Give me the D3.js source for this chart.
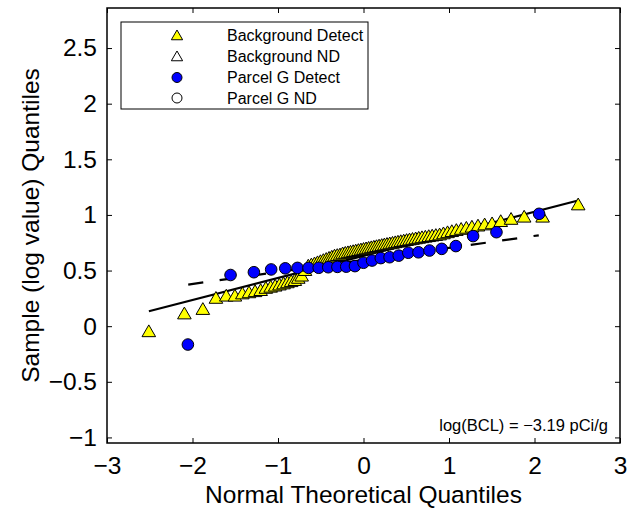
<html lang="en">
<head>
<style>
body { margin: 0; background: #fff; }
text { font-family: "Liberation Sans", Arial, sans-serif; }
</style>
</head>
<body>
</body>
<script type='text/javascript' src='https://d3js.org/d3.v7.min.js'></script>
<script>
var width = 630, height = 512;

// background detects: theoretical quantile, sample quantile
const bgX = [-2.511,-2.095,-1.879,-1.726,-1.605,-1.504,-1.417,-1.339,-1.268,-1.203,
  -1.142,-1.086,-1.033,-0.983,-0.935,-0.890,-0.846,-0.803,-0.763,-0.723,
  -0.684,-0.646,-0.610,-0.573,-0.538,-0.504,-0.470,-0.436,-0.403,-0.371,
  -0.339,-0.307,-0.275,-0.244,-0.213,-0.182,-0.152,-0.121,-0.091,-0.060,
  -0.030,0,0.030,0.060,0.091,0.121,0.152,0.182,0.213,0.244,
  0.275,0.307,0.339,0.371,0.403,0.436,0.470,0.504,0.538,0.573,
  0.610,0.646,0.684,0.723,0.763,0.803,0.846,0.890,0.935,0.983,
  1.033,1.086,1.142,1.203,1.268,1.339,1.417,1.504,1.605,1.726,
  1.879,2.095,2.511];
const bgY = [-0.05,0.11,0.15,0.25,0.27,0.27,0.29,0.30,0.31,0.32,
  0.34,0.35,0.36,0.37,0.38,0.39,0.40,0.41,0.43,0.45,
  0.50,0.54,0.55,0.56,0.57,0.58,0.59,0.60,0.61,0.62,
  0.63,0.635,0.64,0.65,0.655,0.66,0.665,0.67,0.675,0.68,
  0.685,0.69,0.695,0.70,0.705,0.71,0.715,0.72,0.725,0.73,
  0.735,0.74,0.745,0.75,0.755,0.76,0.765,0.77,0.775,0.78,
  0.785,0.79,0.795,0.80,0.805,0.81,0.815,0.82,0.83,0.84,
  0.85,0.86,0.87,0.88,0.89,0.90,0.91,0.92,0.94,0.96,
  0.98,0.98,1.09];

// parcel G detects
const pgX = [-2.054,-1.555,-1.282,-1.080,-0.915,-0.772,-0.643,-0.524,-0.412,-0.305,
  -0.202,-0.100,0,0.100,0.202,0.305,0.412,0.524,0.643,0.772,
  0.915,1.080,1.282,1.555,2.054];
const pgY = [-0.165,0.46,0.485,0.51,0.52,0.524,0.524,0.525,0.53,0.533,
  0.535,0.54,0.57,0.59,0.612,0.62,0.634,0.66,0.664,0.68,
  0.695,0.72,0.81,0.845,1.01];

// fit lines [x0, x1], [y0, y1]
const bgFitX = [-2.51, 2.51], bgFitY = [0.134, 1.13];
const pgFitX = [-2.05, 2.05], pgFitY = [0.374, 0.817];

const xTicks = [-3,-2,-1,0,1,2,3];
const yTicks = [-1,-0.5,0,0.5,1,1.5,2,2.5];
const legendLabels = ['Background Detect','Background ND','Parcel G Detect','Parcel G ND'];
const note = 'log(BCL) = \u22123.19 pCi/g';

var pL = 107, pR = 620, pT = 8, pB = 443;

var svg = d3.select('body').append('svg').attr('width', width).attr('height', height);

var x = d3.scaleLinear().domain([-3, 3]).range([pL, pR]);
var y = d3.scaleLinear().domain([-1.05, 2.86]).range([pB, pT]);

var fmt = function(d) { return String(d).replace('-', '\u2212'); };

// axes with inward ticks, mirrored on all four sides
svg.append('g').attr('transform', 'translate(0,' + pB + ')')
  .call(d3.axisBottom(x).tickValues(xTicks).tickSize(-5).tickPadding(14).tickFormat(fmt));
svg.append('g').attr('transform', 'translate(0,' + pT + ')')
  .call(d3.axisTop(x).tickValues(xTicks).tickSize(-5).tickFormat(''));
svg.append('g').attr('transform', 'translate(' + pL + ',0)')
  .call(d3.axisLeft(y).tickValues(yTicks).tickSize(-5).tickPadding(10).tickFormat(fmt));
svg.append('g').attr('transform', 'translate(' + pR + ',0)')
  .call(d3.axisRight(y).tickValues(yTicks).tickSize(-5).tickFormat(''));

svg.selectAll('.domain').remove();
svg.selectAll('.tick line').attr('stroke', '#000').attr('stroke-width', 1);
svg.selectAll('.tick text').attr('font-size', 24.5).attr('fill', '#000')
  .attr('font-family', '"Liberation Sans", Arial, sans-serif');

svg.append('rect').attr('x', pL).attr('y', pT)
  .attr('width', pR - pL).attr('height', pB - pT)
  .attr('fill', 'none').attr('stroke', '#000').attr('stroke-width', 1.5);

// fit lines
svg.append('line')
  .attr('x1', x(bgFitX[0])).attr('y1', y(bgFitY[0]))
  .attr('x2', x(bgFitX[1])).attr('y2', y(bgFitY[1]))
  .attr('stroke', '#000').attr('stroke-width', 2.2);
svg.append('line')
  .attr('x1', x(pgFitX[0])).attr('y1', y(pgFitY[0]))
  .attr('x2', x(pgFitX[1])).attr('y2', y(pgFitY[1]))
  .attr('stroke', '#000').attr('stroke-width', 2.2)
  .attr('stroke-dasharray', '15.2,16.5');

var tri = d3.symbol().type(d3.symbolTriangle).size(80);

svg.append('g').selectAll('path')
  .data(d3.range(bgX.length))
  .join('path')
  .attr('d', tri)
  .attr('transform', function(i) { return 'translate(' + x(bgX[i]) + ',' + (y(bgY[i]) + 1) + ')'; })
  .attr('fill', '#ffff00').attr('stroke', '#000').attr('stroke-width', 1);

svg.append('g').selectAll('circle')
  .data(d3.range(pgX.length))
  .join('circle')
  .attr('cx', function(i) { return x(pgX[i]); })
  .attr('cy', function(i) { return y(pgY[i]); })
  .attr('r', 5.8)
  .attr('fill', '#0000ff').attr('stroke', '#000').attr('stroke-width', 1);

// legend
var lg = svg.append('g');
lg.append('rect').attr('x', 121).attr('y', 22).attr('width', 247).attr('height', 87)
  .attr('fill', '#fff').attr('stroke', '#000').attr('stroke-width', 1);
var lTri = d3.symbol().type(d3.symbolTriangle).size(55);
var ly = [35.5, 56.5, 77.5, 98];
legendLabels.forEach(function(t, i) {
  if (i < 2) {
    lg.append('path').attr('d', lTri)
      .attr('transform', 'translate(177,' + (ly[i] + 1) + ')')
      .attr('fill', i === 0 ? '#ffff00' : '#fff').attr('stroke', '#000').attr('stroke-width', 1);
  } else {
    lg.append('circle').attr('cx', 177).attr('cy', ly[i]).attr('r', 5)
      .attr('fill', i === 2 ? '#0000ff' : '#fff').attr('stroke', '#000').attr('stroke-width', 1);
  }
  lg.append('text').attr('x', 227).attr('y', ly[i] + 5.5)
    .attr('font-size', 16).text(t);
});

svg.append('text').attr('x', 608).attr('y', 431).attr('text-anchor', 'end')
  .attr('font-size', 16.5).text(note);

svg.append('text').attr('x', (pL + pR) / 2).attr('y', 503).attr('text-anchor', 'middle')
  .attr('font-size', 24.5).text('Normal Theoretical Quantiles');
svg.append('text').attr('transform', 'translate(39,' + ((pT + pB) / 2) + ') rotate(-90)')
  .attr('text-anchor', 'middle').attr('font-size', 24.5).text('Sample (log value) Quantiles');

console.log('ready..');
</script>
</html>
